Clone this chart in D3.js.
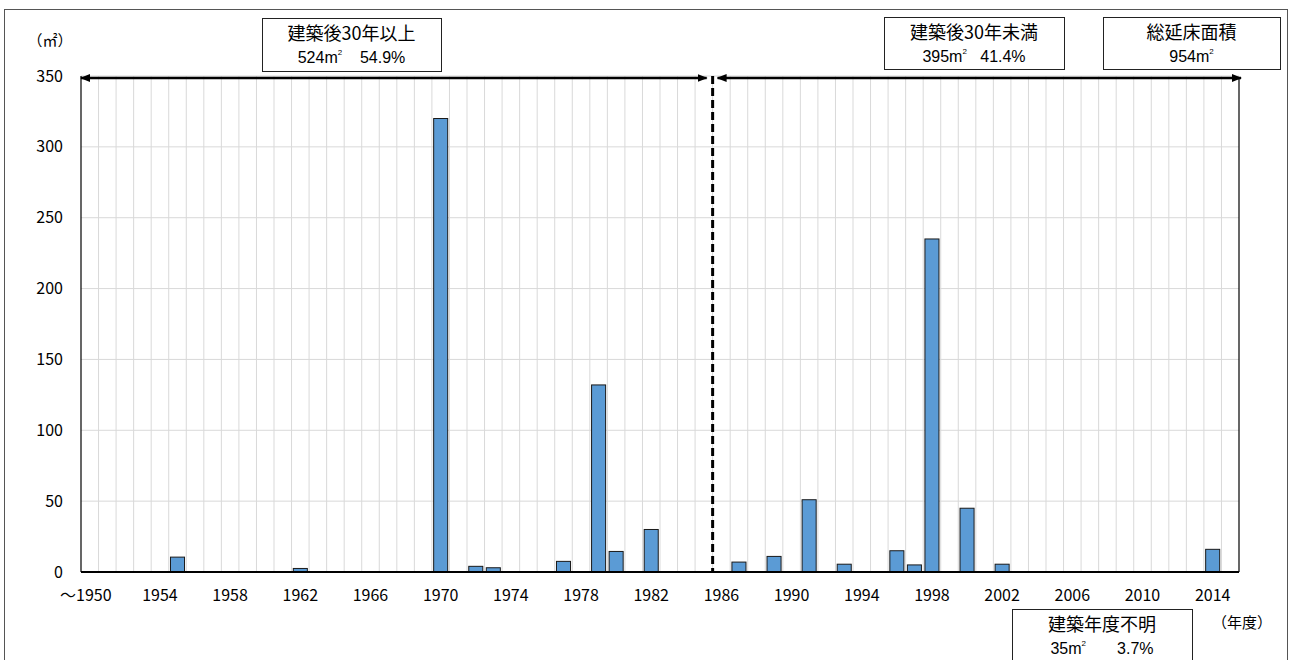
<!DOCTYPE html>
<html>
<head>
<meta charset="utf-8">
<script src="https://cdn.jsdelivr.net/npm/d3@7/dist/d3.min.js"></script>
<style>
  html, body { margin: 0; padding: 0; background: #fff; }
  svg { display: block; font-family: "Noto Sans CJK JP", "Noto Sans", sans-serif; }
</style>
</head>
<body>
<svg id="chart" width="1292" height="660"></svg>
<script>
// Floor area (㎡) by construction year, 1950 (and earlier) to 2015
const years = d3.range(1950, 2016);
const builtYears = [1955, 1962, 1970, 1972, 1973, 1977, 1979, 1980, 1982,
                    1987, 1989, 1991, 1993, 1996, 1997, 1998, 2000, 2002, 2014];
const areas = [10.5, 2.5, 320, 4, 3, 7.5, 132, 14.5, 30,
               7, 11, 51, 5.5, 15, 5, 235, 45, 5.5, 16];
const yTicks = [0, 50, 100, 150, 200, 250, 300, 350];
const xTickYears = [1950, 1954, 1958, 1962, 1966, 1970, 1974, 1978, 1982, 1986, 1990, 1994, 1998, 2002, 2006, 2010, 2014];
const splitYear = 1986;

const svg = d3.select("#chart");
const margin = { left: 81, right: 1239, top: 76, bottom: 572 };

const x = d3.scaleBand().domain(years).range([margin.left, margin.right]).paddingInner(0.2).paddingOuter(0.1);
const xGrid = d3.scaleBand().domain(years).range([margin.left, margin.right]).padding(0);
const y = d3.scaleLinear().domain([0, 350]).range([margin.bottom, margin.top]);

// outer frame
svg.append("rect").attr("x", 4.5).attr("y", 9.5).attr("width", 1283).attr("height", 660)
  .attr("fill", "none").attr("stroke", "#555").attr("stroke-width", 1);

// grid lines
svg.append("g").selectAll("line.h").data(yTicks.filter(d => d > 0)).join("line")
  .attr("x1", margin.left).attr("x2", margin.right)
  .attr("y1", d => y(d)).attr("y2", d => y(d))
  .attr("stroke", "#d9d9d9").attr("stroke-width", 1);
svg.append("g").selectAll("line.v").data(years.slice(1)).join("line")
  .attr("x1", d => xGrid(d)).attr("x2", d => xGrid(d))
  .attr("y1", margin.top).attr("y2", margin.bottom)
  .attr("stroke", "#d9d9d9").attr("stroke-width", 1);

// bars
svg.append("g").selectAll("rect").data(builtYears.map((yr, i) => ({ yr, v: areas[i] }))).join("rect")
  .attr("x", d => x(d.yr)).attr("width", x.bandwidth())
  .attr("y", d => y(d.v)).attr("height", d => y(0) - y(d.v))
  .attr("fill", "#5b9bd5").attr("stroke", "#1a1a1a").attr("stroke-width", 1);

// axes lines
svg.append("line").attr("x1", margin.left).attr("x2", margin.left).attr("y1", margin.top).attr("y2", margin.bottom)
  .attr("stroke", "#000").attr("stroke-width", 1.2);
svg.append("line").attr("x1", margin.right).attr("x2", margin.right).attr("y1", margin.top + 2).attr("y2", margin.bottom)
  .attr("stroke", "#000").attr("stroke-width", 1.2);
svg.append("line").attr("x1", margin.left).attr("x2", margin.right).attr("y1", margin.bottom).attr("y2", margin.bottom)
  .attr("stroke", "#000").attr("stroke-width", 2.2);

// y tick labels
svg.append("g").selectAll("text").data(yTicks).join("text")
  .attr("x", 63).attr("y", d => y(d)).attr("dy", "0.35em")
  .attr("text-anchor", "end").attr("font-size", 16).attr("fill", "#000")
  .text(d => d);

// x tick labels
svg.append("g").selectAll("text").data(xTickYears).join("text")
  .attr("x", d => x(d) + x.bandwidth() / 2 + (d === 1950 ? -4 : 0))
  .attr("y", 601).attr("text-anchor", "middle").attr("font-size", 16).attr("fill", "#000")
  .text(d => d === 1950 ? "～1950" : d);

// split marker between the two age groups
const splitX = xGrid(splitYear);
svg.append("line").attr("x1", splitX).attr("x2", splitX).attr("y1", margin.top).attr("y2", margin.bottom)
  .attr("stroke", "#000").attr("stroke-width", 3).attr("stroke-dasharray", "8,4");

// double-headed arrows
const defs = svg.append("defs");
defs.append("marker").attr("id", "ah").attr("viewBox", "0 0 10 10").attr("refX", 9).attr("refY", 5)
  .attr("markerWidth", 4).attr("markerHeight", 4).attr("orient", "auto-start-reverse")
  .attr("markerUnits", "strokeWidth")
  .append("path").attr("d", "M0,1 L10,5 L0,9 z").attr("fill", "#000");
const arrowY = 78;
svg.append("line").attr("x1", margin.left).attr("x2", splitX - 6).attr("y1", arrowY).attr("y2", arrowY)
  .attr("stroke", "#000").attr("stroke-width", 2.5)
  .attr("marker-start", "url(#ah)").attr("marker-end", "url(#ah)");
svg.append("line").attr("x1", splitX + 5).attr("x2", margin.right + 2).attr("y1", arrowY).attr("y2", arrowY)
  .attr("stroke", "#000").attr("stroke-width", 2.5)
  .attr("marker-start", "url(#ah)").attr("marker-end", "url(#ah)");

// annotation boxes: heading in CJK font, figures in a compact sans;
// the square-metre sign is set as "m" with a raised small "2"
function box(x0, y0, w, h, line1, line2) {
  const g = svg.append("g");
  g.append("rect").attr("x", x0 + 0.5).attr("y", y0 + 0.5).attr("width", w).attr("height", h)
    .attr("fill", "#fff").attr("stroke", "#222").attr("stroke-width", 1);
  g.append("text").attr("x", x0 + w / 2).attr("y", y0 + 22).attr("text-anchor", "middle")
    .attr("font-size", 18).attr("fill", "#000").text(line1);
  const t = g.append("text").attr("x", x0 + w / 2).attr("y", y0 + 45).attr("text-anchor", "middle")
    .attr("font-family", "'Liberation Sans', Arial, sans-serif")
    .attr("font-size", 16).attr("fill", "#000").attr("xml:space", "preserve");
  const parts = line2.split("㎡");
  t.append("tspan").text(parts[0]);
  if (parts.length > 1) {
    t.append("tspan").text("m");
    t.append("tspan").attr("font-size", 8).attr("dy", -8).text("2");
    t.append("tspan").attr("dy", 8).text(parts[1]);
  }
}
box(262, 18, 179, 53, "建築後30年以上", "524㎡    54.9%");
box(884, 17, 180, 52, "建築後30年未満", "395㎡   41.4%");
box(1103, 17, 177, 52, "総延床面積", "954㎡");
box(1012, 609, 180, 60, "建築年度不明", "35㎡       3.7%");

// unit labels
svg.append("text").attr("x", 50).attr("y", 46).attr("text-anchor", "middle").attr("font-size", 15).text("（㎡）");
svg.append("text").attr("x", 1242).attr("y", 628).attr("text-anchor", "middle").attr("font-size", 15).text("（年度）");
</script>
</body>
</html>
